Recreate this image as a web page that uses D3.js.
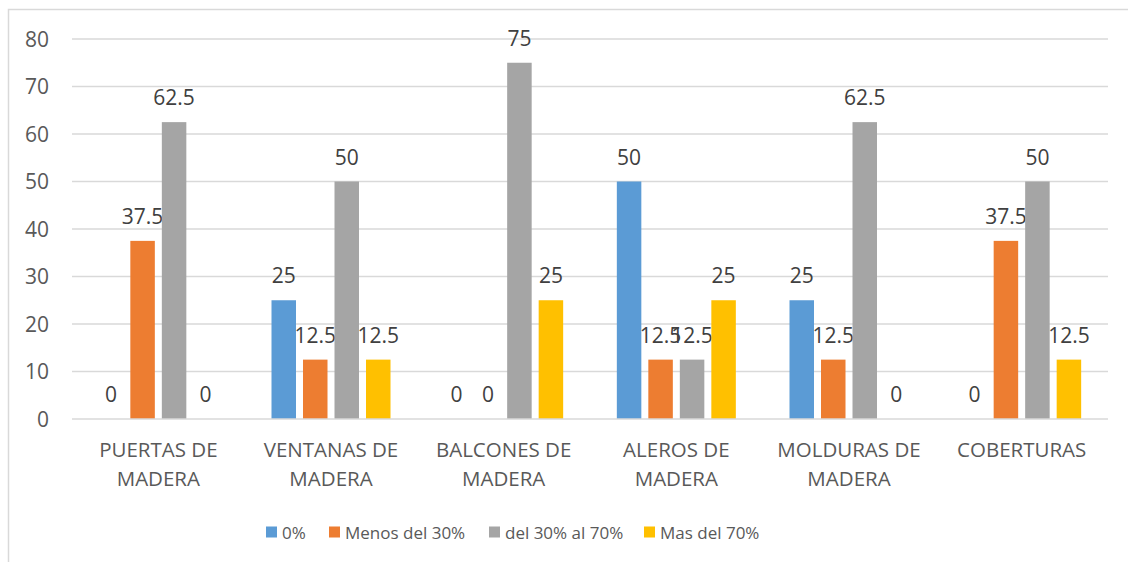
<!DOCTYPE html>
<html>
<head>
<meta charset="utf-8">
<script src="https://cdn.jsdelivr.net/npm/d3@7"></script>
<style>
  html, body { margin: 0; padding: 0; background: #fff; }
  svg { display: block; font-family: "Open Sans", Lato, sans-serif; }
</style>
</head>
<body>
<svg id="chart" width="1128" height="562"></svg>
<script>
// Categories (two-line labels)
const categories = [
  ["PUERTAS DE", "MADERA"],
  ["VENTANAS DE", "MADERA"],
  ["BALCONES DE", "MADERA"],
  ["ALEROS DE", "MADERA"],
  ["MOLDURAS DE", "MADERA"],
  ["COBERTURAS"]
];
const seriesNames = ["0%", "Menos del 30%", "del 30% al 70%", "Mas del 70%"];
const seriesColors = ["#5b9bd5", "#ed7d31", "#a5a5a5", "#ffc000"];
const values0 = [0, 25, 0, 50, 25, 0];
const valuesMenos30 = [37.5, 12.5, 0, 12.5, 12.5, 37.5];
const values30a70 = [62.5, 50, 75, 12.5, 62.5, 50];
const valuesMas70 = [0, 12.5, 25, 25, 0, 12.5];
const yTicks = [0, 10, 20, 30, 40, 50, 60, 70, 80];

const seriesValues = [values0, valuesMenos30, values30a70, valuesMas70];

const svg = d3.select("#chart");

// outer frame
svg.append("rect")
  .attr("x", 8.5).attr("y", 9.5)
  .attr("width", 1140).attr("height", 600)
  .attr("fill", "none").attr("stroke", "#d9d9d9").attr("stroke-width", 1.5);

const plotLeft = 72, plotRight = 1108, plotTop = 39, plotBottom = 419;

const x0 = d3.scaleBand().domain(d3.range(categories.length))
  .range([plotLeft, plotRight]).paddingInner(0).paddingOuter(0);
const bandW = x0.bandwidth();
const step = 31.5, barW = 24.5;
const groupW = step * 3 + barW;

const y = d3.scaleLinear().domain([0, 80]).range([plotBottom, plotTop]);

// gridlines
svg.append("g").selectAll("line").data(yTicks.filter(t => t > 0)).join("line")
  .attr("x1", plotLeft).attr("x2", plotRight)
  .attr("y1", d => y(d)).attr("y2", d => y(d))
  .attr("stroke", "#d9d9d9").attr("stroke-width", 1.3);

// y tick labels
svg.append("g").selectAll("text").data(yTicks).join("text")
  .attr("x", 49).attr("y", d => y(d) + 7.5)
  .attr("text-anchor", "end")
  .attr("font-size", 21).attr("fill", "#595959")
  .text(d => d);

// bars
seriesValues.forEach((vals, si) => {
  const g = svg.append("g");
  const bx = i => x0(i) + (bandW - groupW) / 2 + si * step;
  g.selectAll("rect").data(vals).join("rect")
    .attr("x", (d, i) => bx(i))
    .attr("y", d => y(d))
    .attr("width", barW)
    .attr("height", d => y(0) - y(d))
    .attr("fill", seriesColors[si]);
  g.selectAll("text").data(vals).join("text")
    .attr("x", (d, i) => bx(i) + barW / 2)
    .attr("y", d => y(d) - 17)
    .attr("text-anchor", "middle")
    .attr("font-size", 21).attr("fill", "#404040")
    .text(d => d);
});

// x axis line
svg.append("line")
  .attr("x1", plotLeft).attr("x2", plotRight)
  .attr("y1", y(0)).attr("y2", y(0))
  .attr("stroke", "#d9d9d9").attr("stroke-width", 1.5);

// category labels
const cat = svg.append("g").selectAll("text").data(categories).join("text")
  .attr("text-anchor", "middle")
  .attr("font-size", 20.5).attr("fill", "#595959");
cat.each(function(lines, i) {
  const t = d3.select(this);
  lines.forEach((ln, k) => {
    t.append("tspan")
      .attr("x", x0(i) + bandW / 2)
      .attr("y", 457 + k * 29)
      .text(ln);
  });
});

// legend
const legendX = [266, 329, 489, 644];
const lg = svg.append("g").selectAll("g").data(seriesNames).join("g")
  .attr("transform", (d, i) => `translate(${legendX[i]},532)`);
lg.append("rect").attr("x", 0).attr("y", -5.5).attr("width", 11).attr("height", 11)
  .attr("fill", (d, i) => seriesColors[i]);
lg.append("text").attr("x", 16).attr("y", 6.5)
  .attr("font-size", 17).attr("fill", "#595959")
  .text(d => d);
</script>
</body>
</html>
